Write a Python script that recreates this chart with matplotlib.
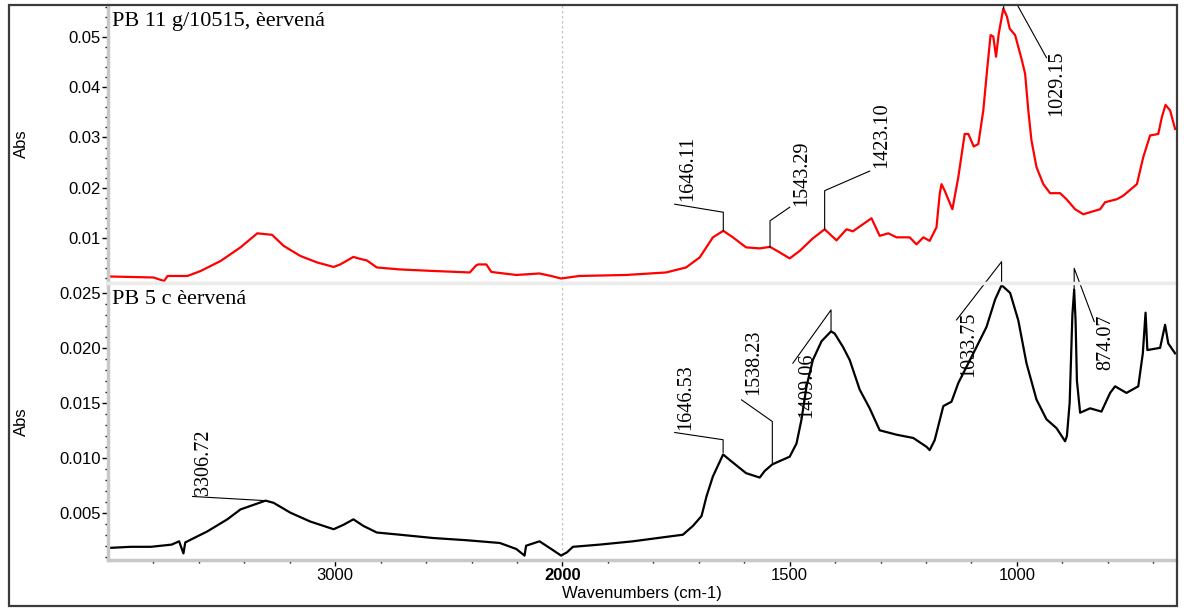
import numpy as np
import matplotlib
matplotlib.use('Agg')
import matplotlib.pyplot as plt
from matplotlib.patches import Rectangle
from matplotlib.ticker import FixedLocator, MultipleLocator, FormatStrFormatter

# spectrum PB 11 g/10515 (red)
red_wn = [3995, 3900, 3800, 3753, 3738, 3650, 3592, 3504, 3417, 3343, 3300, 3278, 3227, 3154,
          3080, 3007, 2978, 2920, 2890, 2861, 2817, 2715, 2569, 2408, 2380, 2371, 2335, 2313,
          2203, 2101, 2050, 2006, 1963, 1860, 1772, 1728, 1698, 1669, 1646.11, 1625, 1596, 1566,
          1543.29, 1522, 1500, 1478, 1449, 1423.10, 1397, 1375, 1361, 1339, 1320, 1302, 1283,
          1265, 1236, 1221, 1206, 1192, 1177, 1170, 1166, 1159, 1142, 1129, 1115, 1107, 1095, 1085,
          1074, 1065, 1058, 1052, 1046, 1040, 1030, 1022, 1016, 1004, 990, 982, 975, 968, 957,
          942, 927, 905, 891, 872, 854, 817, 806, 780, 766, 736, 722, 707, 689, 681, 673, 663, 652]
red_abs = [0.0023, 0.0022, 0.0021, 0.0014, 0.0024, 0.0024, 0.0034, 0.0054, 0.0081, 0.0109, 0.0107,
           0.0106, 0.0084, 0.0064, 0.0051, 0.0042, 0.0047, 0.0062, 0.0058, 0.0055, 0.0041, 0.0037,
           0.0034, 0.0031, 0.0045, 0.0047, 0.0047, 0.0032, 0.0026, 0.0029, 0.0024, 0.0019, 0.0024,
           0.0026, 0.0031, 0.0041, 0.0061, 0.0101, 0.0114, 0.0101, 0.0081, 0.0079, 0.0082, 0.0071,
           0.0059, 0.0074, 0.0099, 0.0117, 0.0095, 0.0117, 0.0113, 0.0127, 0.0139, 0.0104, 0.0109,
           0.0101, 0.0101, 0.0087, 0.0101, 0.0094, 0.0121, 0.0187, 0.0207, 0.0194, 0.0157, 0.0221,
           0.0307, 0.0307, 0.0282, 0.0287, 0.0354, 0.0441, 0.0504, 0.0501, 0.0461, 0.0507, 0.0557,
           0.0541, 0.0517, 0.0504, 0.0457, 0.0427, 0.0354, 0.0294, 0.0241, 0.0207, 0.0189, 0.0189,
           0.0177, 0.0157, 0.0147, 0.0157, 0.0171, 0.0177, 0.0184, 0.0207, 0.0261, 0.0304, 0.0307,
           0.0341, 0.0365, 0.0354, 0.0317]

# spectrum PB 5 c (black)
blk_wn = [3995, 3900, 3811, 3720, 3687, 3668, 3660, 3636, 3563, 3475, 3417, 3306.72, 3271, 3197,
          3110, 3007, 2964, 2920, 2876, 2817, 2715, 2569, 2423, 2276, 2203, 2167, 2160, 2101, 2042,
          2006, 1990, 1977, 1918, 1845, 1772, 1735, 1713, 1694, 1683, 1669, 1646.53, 1632, 1596,
          1566, 1555, 1538.23, 1522, 1500, 1485, 1474, 1463, 1449, 1430, 1409.06, 1401, 1383, 1368,
          1346, 1324, 1302, 1265, 1228, 1199, 1192, 1181, 1162, 1144, 1129, 1096, 1067, 1048,
          1033.75, 1015, 997, 979, 957, 935, 913, 894, 890, 884, 878, 874.07, 871, 868, 861, 839,
          814, 795, 784, 759, 733, 723, 717, 713, 685, 674, 667, 652]
blk_abs = [0.0018, 0.0019, 0.0019, 0.0021, 0.0024, 0.0013, 0.0023, 0.00255, 0.0033, 0.0044, 0.0053,
           0.0061, 0.0059, 0.0050, 0.0042, 0.0035, 0.0039, 0.0044, 0.0038, 0.0032, 0.0030, 0.0027,
           0.0025, 0.00225, 0.0017, 0.0011, 0.0020, 0.0024, 0.0016, 0.0011, 0.0014, 0.0019, 0.0021,
           0.0024, 0.0028, 0.0030, 0.0038, 0.0047, 0.0065, 0.0083, 0.0103, 0.0098, 0.0086, 0.0082,
           0.0088, 0.0094, 0.0097, 0.0101, 0.0113, 0.0135, 0.0165, 0.0189, 0.0206, 0.0215, 0.0213,
           0.0201, 0.0189, 0.0162, 0.0145, 0.0125, 0.0121, 0.0118, 0.0110, 0.0107, 0.0116, 0.0147,
           0.0151, 0.0168, 0.0195, 0.0219, 0.0244, 0.0257, 0.0250, 0.0225, 0.0186, 0.0153, 0.0135,
           0.0127, 0.0115, 0.0120, 0.0150, 0.0230, 0.0253, 0.0225, 0.0170, 0.0141, 0.0145, 0.0142,
           0.0159, 0.0165, 0.0159, 0.0165, 0.0195, 0.0232, 0.0198, 0.0200, 0.0221, 0.0204, 0.0195]

red_title = 'PB 11 g/10515, èervená'
blk_title = 'PB 5 c èervená'

# peak labels: text, leader line (wn, abs) points, label anchor, vertical alignment
red_peaks = [
    ('1646.11', [(1646.11, 0.0114), (1646.11, 0.0151), (1753, 0.0167)], (1725, 0.0174), 'bottom'),
    ('1543.29', [(1543.29, 0.0081), (1543.29, 0.0134), (1500, 0.0161)], (1474, 0.0164), 'bottom'),
    ('1423.10', [(1423.10, 0.0117), (1423.10, 0.0194), (1324, 0.0233)], (1298, 0.0240), 'bottom'),
    ('1029.15', [(1029.15, 0.0557), (1029.15, 0.0572), (1004, 0.0572), (935, 0.0459)], (912, 0.0474), 'top'),
]
blk_peaks = [
    ('3306.72', [(3306.72, 0.0061), (3628, 0.00648)], (3579, 0.00664), 'bottom'),
    ('1646.53', [(1646.53, 0.0105), (1646.53, 0.01164), (1753, 0.0123)], (1728, 0.01255), 'bottom'),
    ('1538.23', [(1538.23, 0.00955), (1538.23, 0.0133), (1606, 0.01527)], (1579, 0.01573), 'bottom'),
    ('1409.06', [(1409.06, 0.0215), (1409.06, 0.02345), (1493, 0.01861)], (1463, 0.01955), 'top'),
    ('1033.75', [(1033.75, 0.0259), (1033.75, 0.02784), (1133, 0.02254)], (1107, 0.0233), 'top'),
    ('874.07', [(874.07, 0.0253), (874.07, 0.02724), (830, 0.02239)], (805, 0.0230), 'top'),
]


# OMNIC style axis: region above 2000 cm-1 compressed by half
def fwd(w):
    w = np.asarray(w, dtype=float)
    return np.where(w > 2000, 2000 + (w - 2000) * 0.5, w)


def inv(p):
    p = np.asarray(p, dtype=float)
    return np.where(p > 2000, 2000 + (p - 2000) * 2.0, p)


sans = ['Liberation Sans', 'DejaVu Sans']
serif = ['Liberation Serif', 'DejaVu Serif']
plt.rcParams['font.family'] = sans

W, H = 1184, 608
fig = plt.figure(figsize=(W / 100, H / 100), dpi=100)
left = 108 / W
width = (1176 - 108) / W
ax1 = fig.add_axes([left, (H - 283) / H, width, 278 / H])
ax2 = fig.add_axes([left, (H - 560) / H, width, 277 / H])

for ax in (ax1, ax2):
    ax.set_xscale('function', functions=(fwd, inv))
    ax.set_xlim(4000, 650)
    ax.axvline(2000, color='#c4c4c4', ls=(0, (2, 2)), lw=0.9, zorder=0)
    ax.spines['left'].set_color('#c8c8c8')
    ax.spines['left'].set_linewidth(2.5)
    ax.spines['right'].set_visible(False)
    ax.tick_params(axis='y', which='major', direction='out', length=4, width=1,
                   labelsize=12, pad=1)
    ax.tick_params(axis='y', which='minor', direction='out', length=2, width=1)
    ax.yaxis.set_label_coords(-0.074, 0.5)

ax1.spines['top'].set_visible(False)
ax1.spines['bottom'].set_color('#ececec')
ax1.spines['bottom'].set_linewidth(2.5)
ax2.spines['top'].set_color('#ececec')
ax2.spines['top'].set_linewidth(2.5)
ax2.spines['bottom'].set_color('#c8c8c8')
ax2.spines['bottom'].set_linewidth(2.5)

ax1.plot(red_wn, red_abs, color='#ff0000', lw=1.6)
ax2.plot(blk_wn, blk_abs, color='black', lw=1.6)

ax1.set_ylim(0.001, 0.0564)
ax1.yaxis.set_major_locator(MultipleLocator(0.01))
ax1.yaxis.set_minor_locator(MultipleLocator(0.002))
ax1.yaxis.set_major_formatter(FormatStrFormatter('%.2f'))
ax1.tick_params(axis='x', which='both', bottom=False, labelbottom=False)

ax2.set_ylim(0.0007, 0.0259)
ax2.yaxis.set_major_locator(MultipleLocator(0.005))
ax2.yaxis.set_minor_locator(MultipleLocator(0.001))
ax2.yaxis.set_major_formatter(FormatStrFormatter('%.3f'))

ax2.xaxis.set_major_locator(FixedLocator([3000, 2000, 1500, 1000]))
minor_x = [w for w in range(3800, 2000, -200) if w != 3000] + \
          [w for w in range(1900, 600, -100) if w not in (1500, 1000)]
ax2.xaxis.set_minor_locator(FixedLocator(minor_x))
labels = ax2.set_xticklabels(['3000', '2000', '1500', '1000'])
labels[1].set_fontweight('bold')
ax2.tick_params(axis='x', which='major', direction='out', length=4, width=1, labelsize=12, pad=2)
ax2.tick_params(axis='x', which='minor', direction='out', length=2, width=1)

ax1.set_ylabel('Abs', fontsize=12)
ax2.set_ylabel('Abs', fontsize=12)
ax2.set_xlabel('Wavenumbers (cm-1)', fontsize=12)
ax2.xaxis.set_label_coords(0.5, -0.095)

ax1.text(0.004, 0.975, red_title, transform=ax1.transAxes, ha='left', va='top',
         fontsize=16, family=serif)
ax2.text(0.004, 0.975, blk_title, transform=ax2.transAxes, ha='left', va='top',
         fontsize=16, family=serif)


def mark_peaks(ax, peaks, clip):
    for txt, path, pos, va in peaks:
        xs = [p[0] for p in path]
        ys = [p[1] for p in path]
        ax.plot(xs, ys, color='black', lw=0.8, clip_on=clip)
        ax.text(pos[0], pos[1], txt, rotation=90, ha='center', va=va,
                fontsize=14.5, family=serif, clip_on=False)


mark_peaks(ax1, red_peaks, True)
mark_peaks(ax2, blk_peaks, False)

# outer frame
fig.patches.append(Rectangle((9 / W, (H - 606) / H), (1177 - 9) / W, 601 / H,
                             transform=fig.transFigure, fill=False, ec='#3c3c3c', lw=1.6))

fig.savefig('out.png', dpi=100)
